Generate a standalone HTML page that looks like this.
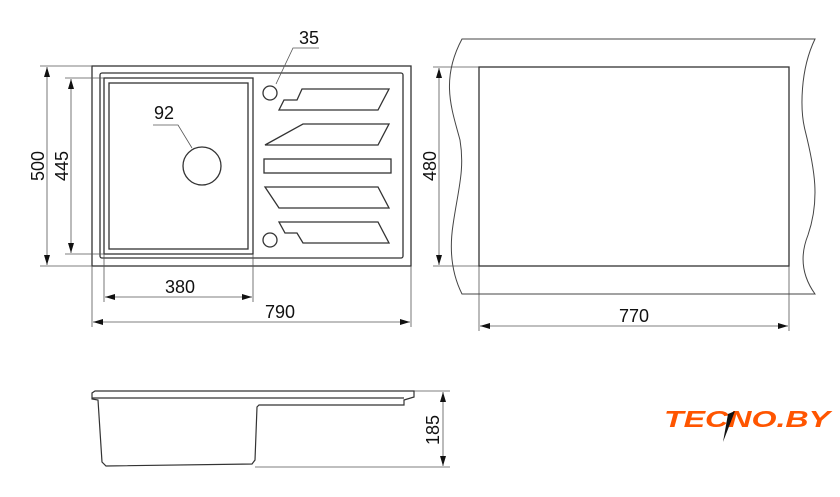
<!DOCTYPE html>
<html><head><meta charset="utf-8"><style>
html,body{margin:0;padding:0;background:#fff;}
svg{display:block;}
text{font-family:"Liberation Sans",sans-serif;fill:#111;}
</style></head><body>
<svg width="840" height="497" viewBox="0 0 840 497" xmlns="http://www.w3.org/2000/svg">
<defs>
<marker id="a" viewBox="0 0 10 6" refX="10" refY="3" markerWidth="10" markerHeight="6" orient="auto-start-reverse" markerUnits="userSpaceOnUse"><path d="M0,0L10,3L0,6z" fill="#111"/></marker>
</defs>
<g fill="none" stroke="#333" stroke-width="1.3">
<rect x="92" y="66" width="319" height="200"/>
<rect x="100" y="73" width="303" height="185" rx="2"/>
<rect x="104" y="78" width="149" height="176"/>
<rect x="109" y="83" width="139" height="166"/>
<circle cx="202" cy="166" r="19"/>
<circle cx="270" cy="93" r="7"/>
<circle cx="270" cy="240" r="7"/>
<path d="M302,89L389,89L378,110L279,110L284,100L297,100Z"/>
<path d="M303,124L389,124L378,145L265,145Z"/>
<rect x="264" y="159" width="127" height="14"/>
<path d="M265,187L378,187L389,208L279,208Z"/>
<path d="M279,222L378,222L389,243L303,243L297,233L285,233Z"/>
</g>
<g fill="none" stroke="#555" stroke-width="0.8">
<line x1="40" y1="66" x2="92" y2="66"/><line x1="40" y1="266" x2="92" y2="266"/>
<line x1="65" y1="78" x2="104" y2="78"/><line x1="65" y1="254" x2="104" y2="254"/>
<line x1="104" y1="254" x2="104" y2="302"/><line x1="253" y1="254" x2="253" y2="302"/>
<line x1="92" y1="266" x2="92" y2="327"/><line x1="411" y1="266" x2="411" y2="327"/>
<path d="M319,48L293,48L276,84"/>
<path d="M153,125L178,125L192,148"/>
<line x1="47" y1="67" x2="47" y2="265" marker-start="url(#a)" marker-end="url(#a)"/>
<line x1="71" y1="79" x2="71" y2="253" marker-start="url(#a)" marker-end="url(#a)"/>
<line x1="105" y1="297" x2="252" y2="297" marker-start="url(#a)" marker-end="url(#a)"/>
<line x1="93" y1="322" x2="410" y2="322" marker-start="url(#a)" marker-end="url(#a)"/>
<line x1="433" y1="67" x2="479" y2="67"/><line x1="433" y1="266" x2="479" y2="266"/>
<line x1="439" y1="68" x2="439" y2="265" marker-start="url(#a)" marker-end="url(#a)"/>
<line x1="479" y1="266" x2="479" y2="331"/><line x1="789" y1="266" x2="789" y2="331"/>
<line x1="480" y1="326" x2="788" y2="326" marker-start="url(#a)" marker-end="url(#a)"/>
<line x1="404" y1="391" x2="450" y2="391"/><line x1="255" y1="467" x2="450" y2="467"/>
<line x1="443" y1="392" x2="443" y2="466" marker-start="url(#a)" marker-end="url(#a)"/>
</g>
<g fill="none" stroke="#444" stroke-width="1">
<path d="M462,39L815,39C800,70 800,110 805,130C815,170 820,200 808,235C798,260 805,280 815,294L462,294C450,270 450,245 453,225C458,190 465,170 460,140C452,110 440,80 462,39Z"/>
</g>
<rect x="479" y="67" width="310" height="199" fill="none" stroke="#333" stroke-width="1.3"/>
<g fill="none" stroke="#333" stroke-width="1.2">
<path d="M92,399L92,393L95,391L414,391L414,397L404,400L404,405L259,405L257,407L255,460L252,464L106,466L102,462L98,400Z"/>
<line x1="92" y1="398" x2="404" y2="398"/>
</g>
<g font-size="18">
<text x="309" y="44" text-anchor="middle">35</text>
<text x="164" y="119" text-anchor="middle">92</text>
<text x="180" y="293" text-anchor="middle">380</text>
<text x="280" y="318" text-anchor="middle">790</text>
<text x="634" y="322" text-anchor="middle">770</text>
<text transform="translate(44,166) rotate(-90)" text-anchor="middle">500</text>
<text transform="translate(68,166) rotate(-90)" text-anchor="middle">445</text>
<text transform="translate(436,166) rotate(-90)" text-anchor="middle">480</text>
<text transform="translate(439,430) rotate(-90)" text-anchor="middle">185</text>
</g>
<text x="664" y="427" font-size="23" font-weight="bold" font-style="italic" style="fill:#ff5500" textLength="166" lengthAdjust="spacingAndGlyphs">TECNO.BY</text>
<path d="M728,414L723,442L735,411Z" fill="#111"/>
</svg>
</body></html>
